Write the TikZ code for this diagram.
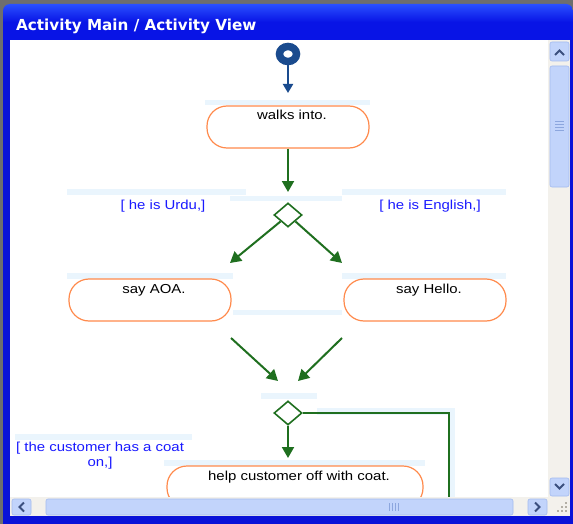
\documentclass[tikz,border=0pt]{standalone}
\usepackage{fontspec}
\usepackage{xcolor}
\usepackage{tikz}
\usetikzlibrary{arrows.meta,positioning,shapes.geometric}
\newfontfamily\diafont{Liberation Sans}[FakeStretch=1.15]
\newfontfamily\barfont{DejaVu Sans}
\definecolor{OuterGray}{HTML}{6E6E6E}
\definecolor{FrameBlue}{HTML}{0A12D8}
\definecolor{TitleBlue}{HTML}{0814E6}
\definecolor{TitleLight}{HTML}{2A50FF}
\definecolor{ActOrange}{HTML}{FF8A4C}
\definecolor{FlowGreen}{HTML}{1F6F1F}
\definecolor{GuardBlue}{HTML}{1A1AFF}
\definecolor{StripBlue}{HTML}{EAF5FD}
\definecolor{InitBlue}{HTML}{1A4B8E}
\definecolor{TrackGray}{HTML}{F3F1EC}
\definecolor{BtnFill}{HTML}{C2D4FB}
\definecolor{BtnEdge}{HTML}{A3BBEF}
\definecolor{GlyphBlue}{HTML}{3B4F7E}
\definecolor{GripLine}{HTML}{8CA6DE}
\definecolor{GripDot}{HTML}{B3AFA5}

\begin{document}
\begin{tikzpicture}[
    x=1pt, y=-1pt,
    actionbox/.style={draw=ActOrange, line width=1.2pt, rounded corners=20pt,
      fill=white, minimum width=162pt, minimum height=42pt, inner sep=0pt,
      text height=14pt, text depth=28pt, font=\diafont\fontsize{13}{15}\selectfont,
      execute at begin node=\hspace*{8pt}},
    decision/.style={diamond, draw=FlowGreen, line width=1.6pt, fill=white,
      minimum width=28pt, minimum height=24pt, inner sep=0pt},
    initial/.style={ellipse, draw=InitBlue, line width=7.5pt, fill=white,
      minimum width=17pt, minimum height=15pt, inner sep=0pt},
    guard/.style={text=GuardBlue, inner sep=0pt, align=center,
      font=\diafont\fontsize{13}{15}\selectfont},
    flow/.style={draw=FlowGreen, line width=2pt, -{Triangle[length=11pt,width=12pt]}},
    initflow/.style={draw=InitBlue, line width=2pt, -{Triangle[length=9pt,width=10pt]}},
    strip/.style={fill=StripBlue},
    sbutton/.style={draw=BtnEdge, fill=BtnFill, line width=0.6pt, rounded corners=2pt},
    glyph/.style={draw=GlyphBlue, line width=2pt}
  ]
    \useasboundingbox (0,0) rectangle (573,524);
    % window frame
    \fill[OuterGray] (0,0) rectangle (573,524);
    \fill[FrameBlue] (3,30) rectangle (573,524);
    \shade[top color=TitleLight, bottom color=TitleBlue, middle color=TitleBlue]
      (3,40) {[rounded corners=7pt] -- (3,4) -- (573,4)} -- (573,40) -- cycle;
    \node[anchor=base west, text=white, inner sep=0pt,
      font=\barfont\bfseries\fontsize{15.2}{18}\selectfont] (title) at (16,30.5)
      {Activity Main / Activity View};
    \fill[white] (10,40) rectangle (548,497);

    % diagram
    \begin{scope}
      \clip (10,40) rectangle (548,497);
      \fill[strip] (205,100) rectangle (370,105);
      \fill[strip] (67,189) rectangle (246,195);
      \fill[strip] (342,189) rectangle (506,195);
      \fill[strip] (230,196) rectangle (342,201);
      \fill[strip] (67,273) rectangle (233,279);
      \fill[strip] (342,273) rectangle (506,279);
      \fill[strip] (233,310) rectangle (342,315);
      \fill[strip] (261,393) rectangle (317,399);
      \fill[strip] (317,408) rectangle (455,415);
      \fill[strip] (449,408) rectangle (455,497);
      \fill[strip] (15,434) rectangle (192,440);
      \fill[strip] (164,460) rectangle (425,466);

      \node[initial] (start) at (288,54) {};
      \coordinate (startTip) at (288,93);
      \draw[initflow] (start) -- (startTip);

      \node[actionbox] (walks) at (288,127) {walks into.};
      \coordinate (walksTip) at (288,192);
      \draw[flow] (walks.south) -- (walksTip);

      \node[decision] (branch) at (288,215) {};
      \node[guard, anchor=base] (urdu) at (163,209) {[ he is Urdu,]};
      \node[guard, anchor=base] (english) at (430,209) {[ he is English,]};
      \coordinate (aoaTip) at (230,263);
      \coordinate (helloTip) at (342,263);
      \draw[flow] (branch.south west) -- (aoaTip);
      \draw[flow] (branch.south east) -- (helloTip);

      \node[actionbox] (aoa) at (150,300) {say AOA.};
      \node[actionbox] (hello) at (425,300) {say Hello.};

      \coordinate (aoaOut) at (231,338);
      \coordinate (joinL) at (278,381);
      \coordinate (helloOut) at (342,338);
      \coordinate (joinR) at (298,381);
      \draw[flow] (aoaOut) -- (joinL);
      \draw[flow] (helloOut) -- (joinR);

      \node[decision] (coatcheck) at (288,413) {};
      \coordinate (helpTip) at (288,458);
      \coordinate (loopEnd) at (449,530);
      \draw[flow] (coatcheck.south) -- (helpTip);
      \draw[draw=FlowGreen, line width=2.5pt] (coatcheck.east) -| (loopEnd);
      \node[guard] (coat) at (100,456) {[ the customer has a coat\\on,]};

      \node[actionbox, minimum width=256pt] (help) at (295,487)
        {help customer off with coat.};
    \end{scope}

    % scroll bars
    \fill[TrackGray] (548,40) rectangle (570,497);
    \fill[TrackGray] (10,497) rectangle (570,516);
    \draw[sbutton] (550,42) rectangle (569,61);
    \draw[glyph] (555,55) -- (559.5,50.5) -- (564,55);
    \draw[sbutton] (550,66) rectangle (569,187);
    \foreach \y in {121,124,127,130}
      \draw[GripLine, line width=0.8pt] (555,\y) -- (564,\y);
    \draw[sbutton] (550,478) rectangle (569,496);
    \draw[glyph] (555,484) -- (559.5,488.5) -- (564,484);
    \draw[sbutton] (12,499) rectangle (31,515);
    \draw[glyph] (24,502.5) -- (19.5,507) -- (24,511.5);
    \draw[sbutton] (46,499) rectangle (513,515);
    \foreach \x in {389,392,395,398}
      \draw[GripLine, line width=0.8pt] (\x,503) -- (\x,511);
    \draw[sbutton] (528,499) rectangle (547,515);
    \draw[glyph] (535,502.5) -- (539.5,507) -- (535,511.5);
    \foreach \p in {(565,502),(561,506),(565,506),(557,510),(561,510),(565,510)}
      \fill[GripDot] \p rectangle ++(2,2);
\end{tikzpicture}
\end{document}
